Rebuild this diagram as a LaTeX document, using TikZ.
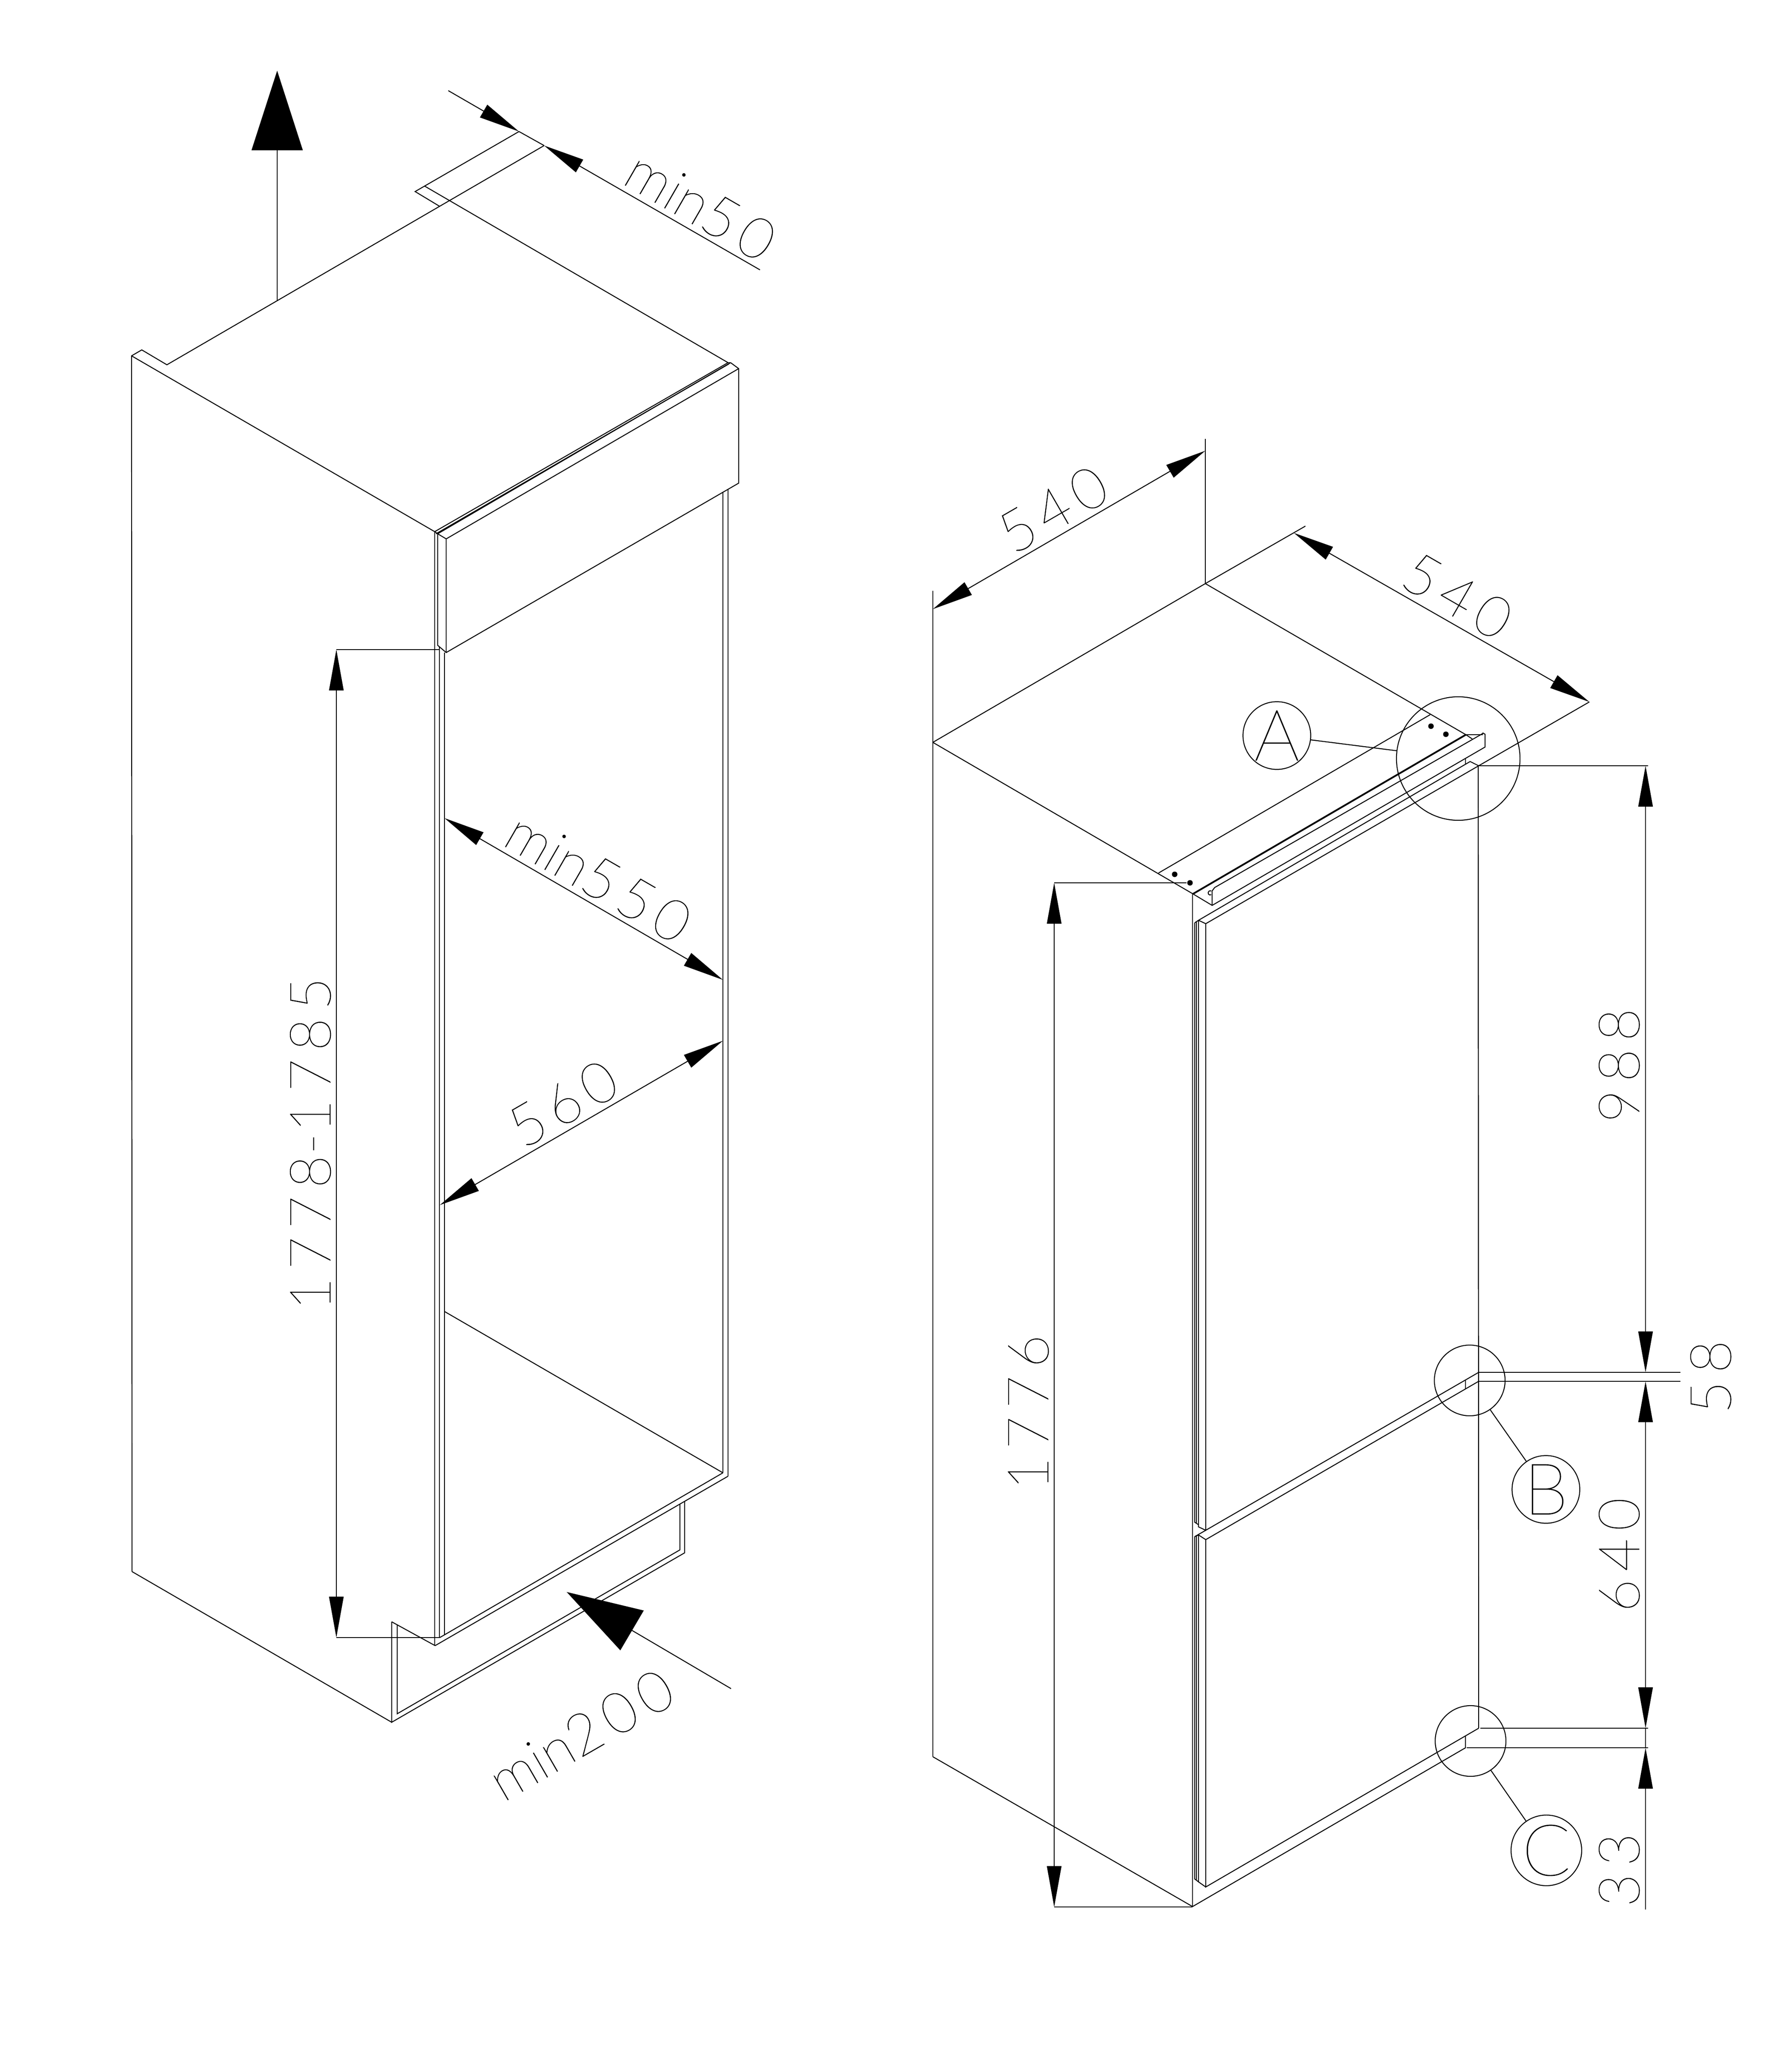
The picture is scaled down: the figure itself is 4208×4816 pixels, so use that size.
\documentclass[tikz,border=0pt]{standalone}
\usepackage{fontspec}
\usetikzlibrary{arrows.meta}
\newfontfamily\dimfont[LetterSpace=13.4, FakeBold=0.6]{Lato Hairline}
\newfontfamily\tagfont[FakeBold=0.6]{Lato Hairline}

\begin{document}
\begin{tikzpicture}[x=0.01cm, y=-0.01cm]
	% Configurable lengths
	\def\tipLength{0.96cm}
	\def\tipWidth{0.34cm}
	\def\tagSize{1.59cm}
	\def\detailSize{1.66cm}

	% Styles
	\tikzstyle{every path}=[line width=0.022cm, line join=miter]
	\tikzstyle{dim}=[{Triangle[length=\tipLength,width=\tipWidth]}-{Triangle[length=\tipLength,width=\tipWidth]}]
	\tikzstyle{tip}=[-{Triangle[length=\tipLength,width=\tipWidth]}]
	\tikzstyle{dimtext}=[font={\dimfont\fontsize{38.1}{40}\selectfont}, inner sep=0pt, anchor=base]
	\tikzstyle{tag}=[draw, circle, minimum size=\tagSize, inner sep=0pt, font={\tagfont\fontsize{47.6}{50}\selectfont}]
	\tikzstyle{detail}=[draw, circle, inner sep=0pt]
	\tikzstyle{screw}=[circle, fill, inner sep=0pt, minimum size=0.13cm]

	\useasboundingbox (0,0) rectangle (4208,4816);

	% Cabinet carcass
	\draw (310,3692) -- (309,836) -- (333,822) -- (392,857) -- (1278,342);
	\draw (309,836) -- (1021,1249);
	\draw (310,3692) -- (920,4046);
	\draw (1021,1249) -- (1021,3866);
	\draw (1032,1520) -- (1032,3847);
	\draw (1044,1533) -- (1044,3841);
	\draw (1698,1156) -- (1698,3460);
	\draw (1710,1149) -- (1710,3468);
	\draw (1044,3081) -- (1698,3460);
	\draw (1022,3866) -- (1710,3468);
	\draw (1033,3847) -- (1698,3460);

	% Cabinet top and vent slot
	\draw (1219,309) -- (975,450) -- (1033,485);
	\draw (997,437) -- (1710,852);
	\draw (1021,1249) -- (1710,852);
	\draw (1024,1254) -- (1712,855);
	\draw (1710,852) -- (1716,852);

	% Cabinet top band
	\draw (1021,1249) -- (1028,1254);
	\draw (1716,852) -- (1735,866) -- (1735,1135) -- (1048,1533) -- (1028,1516) -- (1028,1254) -- (1716,852);
	\draw (1028,1254) -- (1048,1266) -- (1735,866);
	\draw (1048,1266) -- (1048,1533);

	% Cabinet plinth opening
	\draw (920,3810) -- (1022,3866);
	\draw (920,3810) -- (920,4046) -- (1608,3648) -- (1608,3527);
	\draw (933,3817) -- (933,4026) -- (1597,3641) -- (1597,3533);

	% Cabinet dimensions
	\coordinate (up_start) at (651,706);
	\coordinate (up_end) at (651,166);
	\draw[-{Triangle[length=1.87cm,width=1.2cm]}] (up_start) -- (up_end);

	\coordinate (slot_a) at (1219,309);
	\coordinate (slot_b) at (1278,342);
	\coordinate (slot_start) at (1053,213);
	\coordinate (slot_end) at (1785,634);
	\draw[tip] (slot_start) -- (slot_a);
	\draw (slot_a) -- (slot_b);
	\draw[tip] (slot_end) -- (slot_b);
	\node[dimtext, rotate=-30] (text_min50) at (1622,524) {{\tagfont min}50};

	\coordinate (niche_top) at (790,1526);
	\coordinate (niche_bottom) at (790,3847);
	\draw (niche_top) -- (1031,1526);
	\draw (niche_bottom) -- (1033,3847);
	\draw[dim] (niche_top) -- (niche_bottom);
	\node[dimtext, rotate=90] (text_height) at (776,2687) {1778\kern0.02cm-\kern0.02cm1785};

	\coordinate (depth_a) at (1044,1922);
	\coordinate (depth_b) at (1698,2302);
	\draw[dim] (depth_a) -- (depth_b);
	\node[dimtext, rotate=-30] (text_min550) at (1382,2102) {{\tagfont min}550};

	\coordinate (width_a) at (1033,2831);
	\coordinate (width_b) at (1698,2445);
	\draw[dim] (width_a) -- (width_b);
	\node[dimtext, rotate=30] (text_560) at (1346,2633) {560};

	\coordinate (vent_tip) at (1331,3740);
	\coordinate (vent_tail) at (1717,3967);
	\draw[-{Triangle[length=1.78cm,width=1.08cm]}] (vent_tail) -- (vent_tip);
	\node[dimtext, rotate=30] (text_min200) at (1388,4116) {{\tagfont min}200};

	% Fridge body
	\draw (2191,4127) -- (2191,1388);
	\draw (2191,1744) -- (2831,1371) -- (3066,1236);
	\draw (2831,1371) -- (2831,1031);
	\draw (2191,1744) -- (2802,2100);
	\draw (2831,1371) -- (3443,1726);
	\draw (2191,4127) -- (2801,4479);
	\draw (2801,2100) -- (2801,4479);
	\draw (2801,4479) -- (3442,4106) -- (3442,4078);
	\draw (2721,2051) -- (3359,1679);

	% Hinge rail
	\draw[line width=0.04cm] (2802,2100) -- (3443,1726);
	\draw (2802,2100) -- (2847,2127) -- (3488,1755) -- (3488,1724);
	\draw (2847,2127) -- (2847,2093) -- (2853,2085) -- (3483,1723);
	\draw (3443,1726) -- (3483,1726);
	\draw (3480,1725) -- (3483,1722) -- (3488,1725);
	\draw (3443,1726) -- (3458,1736);
	\draw (2845,2102) arc[start angle=60, end angle=300, radius=5];
	\node[screw] (screw_a) at (2759,2054) {};
	\node[screw] (screw_b) at (2795,2074) {};
	\node[screw] (screw_c) at (3361,1706) {};
	\node[screw] (screw_d) at (3396,1725) {};

	% Fridge doors
	\draw (3442,1781) -- (3442,1795);
	\draw (2815,2162) -- (3453,1789) -- (3473,1799);
	\draw (2815,2162) -- (2832,2170) -- (3473,1799);
	\draw (3472,1799) -- (3473,4060);
	\draw (2806,2168) -- (2815,2162);
	\draw (2806,2168) -- (2806,3576) -- (2815,3582);
	\draw (2810,2166) -- (2810,3578);
	\draw (2815,2162) -- (2815,3587) -- (2832,3595);
	\draw (2832,2170) -- (2832,3595) -- (3473,3224);
	\draw (2806,3610) -- (2832,3595);
	\draw (2815,3606) -- (2832,3617) -- (3473,3245);
	\draw (2806,3610) -- (2806,4414) -- (2815,4421);
	\draw (2806,3610) -- (2815,3606);
	\draw (2810,3608) -- (2810,4416);
	\draw (2815,3606) -- (2815,4421) -- (2832,4433);
	\draw (2832,3617) -- (2832,4433) -- (3473,4060);
	\draw (3442,3242) -- (3442,3262);

	% Details
	\node[detail, minimum size=2.9cm] (detail_a) at (3425,1782) {};
	\node[detail, minimum size=\detailSize] (detail_b) at (3452,3243) {};
	\node[detail, minimum size=\detailSize] (detail_c) at (3454,4090) {};
	\node[tag] (tag_a) at (2999,1728) {A};
	\node[tag] (tag_b) at (3631,3499) {B};
	\node[tag] (tag_c) at (3632,4347) {C};
	\draw (tag_a) -- (detail_a);
	\draw (tag_b) -- (detail_b);
	\draw (tag_c) -- (detail_c);

	% Fridge dimensions
	\coordinate (wide_a) at (2191,1431);
	\coordinate (wide_b) at (2831,1059);
	\draw[dim] (wide_a) -- (wide_b);
	\node[dimtext, rotate=30] (text_540a) at (2497,1237) {540};

	\coordinate (deep_a) at (3039,1252);
	\coordinate (deep_b) at (3733,1649);
	\draw[dim] (deep_a) -- (deep_b);
	\draw (deep_b) -- (3473,1799);
	\node[dimtext, rotate=-30] (text_540b) at (3400,1441) {540};

	\coordinate (full_top) at (2476,2074);
	\coordinate (full_bottom) at (2476,4480);
	\draw (full_top) -- (screw_b);
	\draw (full_bottom) -- (2801,4480);
	\draw[dim] (full_top) -- (full_bottom);
	\node[dimtext, rotate=90] (text_1776) at (2462,3318) {1776};

	\coordinate (door_top) at (3865,1799);
	\coordinate (door_gap_a) at (3865,3224);
	\coordinate (door_gap_b) at (3865,3245);
	\coordinate (door_low) at (3865,4060);
	\coordinate (foot_top) at (3865,4106);
	\coordinate (foot_end) at (3865,4486);
	\draw (3472,1799) -- (3871,1799);
	\draw (3473,3224) -- (3947,3224);
	\draw (3473,3245) -- (3947,3245);
	\draw (3477,4060) -- (3871,4060);
	\draw (3445,4106) -- (3871,4106);
	\draw[dim] (door_top) -- (door_gap_a);
	\draw[dim] (door_gap_b) -- (door_low);
	\draw (door_low) -- (foot_top);
	\draw[tip] (foot_end) -- (foot_top);
	\node[dimtext, rotate=90] (text_988) at (3850,2503) {988};
	\node[dimtext, rotate=90] (text_640) at (3850,3653) {640};
	\node[dimtext, rotate=90] (text_58) at (4065,3235) {58};
	\node[dimtext, rotate=90] (text_33) at (3850,4393) {33};
\end{tikzpicture}
\end{document}
